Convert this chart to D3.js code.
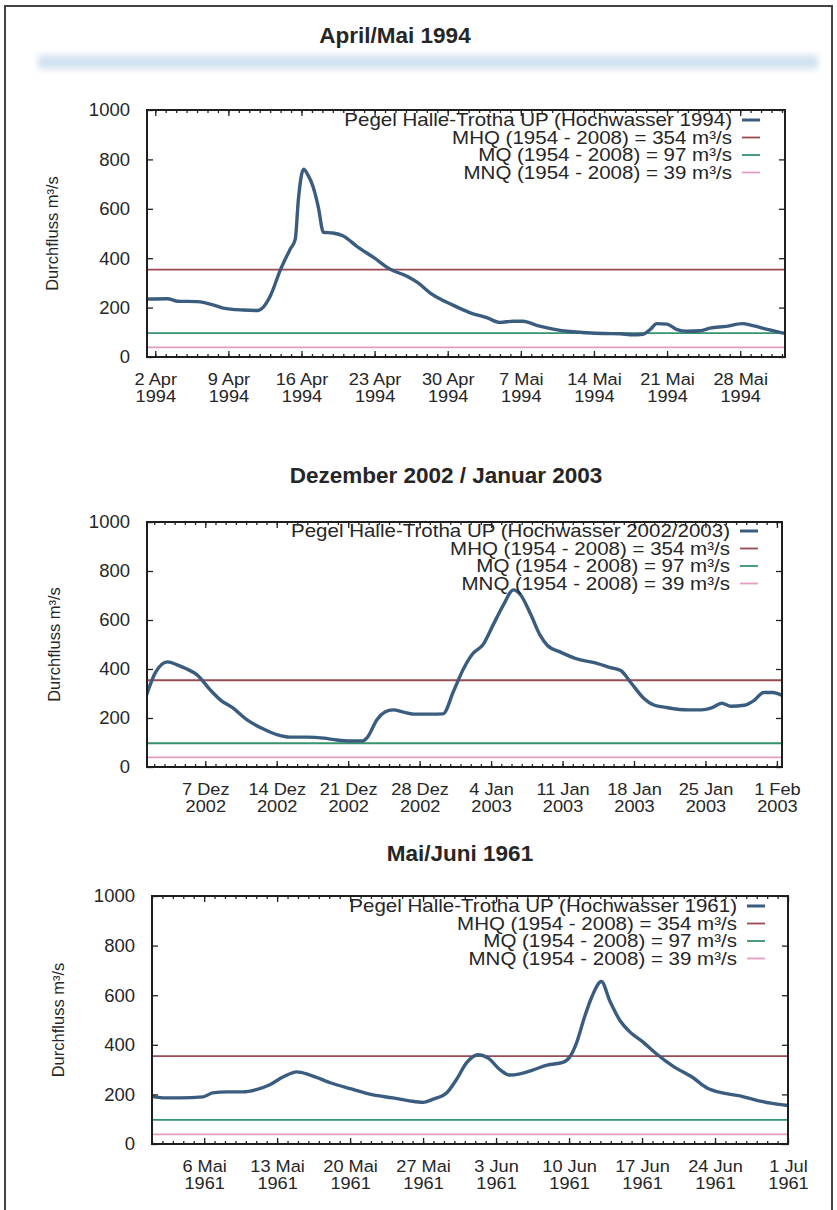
<!DOCTYPE html>
<html>
<head>
<meta charset="utf-8">
<script src="https://cdn.jsdelivr.net/npm/d3@7"></script>
<style>
  body { margin: 0; background: #fff; }
  text { font-family: "Liberation Sans", Arial, Helvetica, sans-serif; fill: #262626; }
</style>
</head>
<body>
<script>
const titles = ["April/Mai 1994", "Dezember 2002 / Januar 2003", "Mai/Juni 1961"];
const seriesNames = [
    "Pegel Halle-Trotha UP (Hochwasser 1994)",
    "Pegel Halle-Trotha UP (Hochwasser 2002/2003)",
    "Pegel Halle-Trotha UP (Hochwasser 1961)"
];
const refLabels = [
    "MHQ (1954 - 2008) = 354 m³/s",
    "MQ (1954 - 2008) = 97 m³/s",
    "MNQ (1954 - 2008) = 39 m³/s"
];
const refValues = [354, 97, 39];
const yTicks = [0, 200, 400, 600, 800, 1000];

// Hochwasser 1994
const start1 = "1994-04-02";
const domain1 = ["1994-04-01T05:00", "1994-06-01T07:00"];
const ticks1 = ["1994-04-02", "1994-04-09", "1994-04-16", "1994-04-23", "1994-04-30",
                "1994-05-07", "1994-05-14", "1994-05-21", "1994-05-28"];
const days1 = [-0.8, 1.15, 2.1, 4.0, 5.9, 6.5, 8.4, 9.8, 10.3, 11.0, 12.0, 12.9, 13.4, 13.7, 14.2,
               14.6, 15.1, 15.6, 16.1, 17.0, 18.0, 19.3, 20.9, 22.5, 24.1, 25.1, 26.3, 28.5, 30.1,
               31.8, 33.0, 34.3, 35.2, 36.6, 38.1, 39.7, 41.3, 42.9, 44.5, 45.7, 46.7, 47.4, 48.0,
               49.0, 49.9, 50.9, 52.2, 53.1, 54.7, 56.2, 57.2, 58.6, 59.8, 60.4];
const values1 = [235, 236, 226, 224, 206, 198, 190, 188, 200, 246, 355, 435, 476, 637, 760,
                 738, 690, 609, 505, 502, 490, 448, 403, 355, 327, 302, 260, 210, 180,
                 158, 140, 145, 145, 127, 113, 103, 98, 95, 94, 90, 92, 112, 135,
                 133, 112, 104, 106, 117, 124, 135, 127, 112, 100, 95];

// Hochwasser 2002/2003
const start2 = "2002-12-01";
const domain2 = ["2002-12-01T07:00", "2003-02-01T12:00"];
const ticks2 = ["2002-12-07", "2002-12-14", "2002-12-21", "2002-12-28", "2003-01-04",
                "2003-01-11", "2003-01-18", "2003-01-25", "2003-02-01"];
const days2 = [0.25, 1.1, 2.3, 3.3, 4.2, 5.2, 6.5, 7.5, 8.7, 10.1, 11.7, 13.1, 14.3, 16.0, 17.6,
               18.9, 20.2, 21.4, 21.9, 22.8, 23.6, 24.4, 25.4, 26.4, 28.0, 29.3, 30.3, 31.3, 32.2,
               33.2, 34.2, 35.2, 36.2, 36.9, 37.9, 38.8, 39.5, 40.8, 42.5, 44.0, 45.7, 46.7, 47.7,
               48.9, 49.9, 51.3, 53.3, 54.6, 55.6, 56.6, 57.5, 58.8, 59.8, 60.7, 61.6, 62.5];
const values2 = [294, 384, 429, 416, 400, 376, 314, 273, 241, 192, 155, 131, 122, 122, 118,
                 110, 106, 106, 122, 192, 224, 233, 224, 216, 216, 217, 307, 401, 462,
                 499, 580, 661, 723, 702, 621, 538, 497, 469, 440, 427, 406, 394, 344,
                 283, 254, 242, 233, 233, 241, 260, 248, 252, 273, 304, 304, 292];

// Hochwasser 1961
const start3 = "1961-05-01";
const domain3 = ["1961-05-01T00:00", "1961-07-01T00:00"];
const ticks3 = ["1961-05-06", "1961-05-13", "1961-05-20", "1961-05-27", "1961-06-03",
                "1961-06-10", "1961-06-17", "1961-06-24", "1961-07-01"];
const days3 = [0.0, 1.05, 2.7, 4.9, 5.8, 7.2, 8.7, 10.0, 11.3, 12.6, 13.9, 15.1, 17.1, 19.0,
               21.2, 23.1, 24.7, 26.0, 26.9, 28.3, 29.2, 30.2, 31.3, 32.2, 33.4, 34.3, 35.3,
               36.5, 37.9, 39.4, 40.1, 40.7, 41.5, 42.2, 43.1, 43.9, 44.9, 45.8, 47.1, 48.4,
               50.0, 51.9, 53.2, 54.7, 56.4, 58.0, 59.5, 61.0];
const values3 = [192, 186, 186, 190, 206, 210, 210, 219, 239, 271, 291, 279, 247, 223,
                 198, 186, 174, 168, 180, 208, 260, 329, 360, 348, 299, 278, 283,
                 298, 318, 329, 353, 406, 514, 595, 655, 578, 497, 453, 411, 363,
                 313, 267, 227, 206, 194, 176, 164, 155];

const seriesColor = "#3a5d7f";
const refColors = ["#9a4a52", "#34946c", "#e59cc4"];

const parseDay = d3.timeParse("%Y-%m-%d");
const parseTime = d3.timeParse("%Y-%m-%dT%H:%M");
const de = d3.timeFormatLocale({
    dateTime: "%A, der %e. %B %Y, %X", date: "%d.%m.%Y", time: "%H:%M:%S", periods: ["AM", "PM"],
    days: ["Sonntag", "Montag", "Dienstag", "Mittwoch", "Donnerstag", "Freitag", "Samstag"],
    shortDays: ["So", "Mo", "Di", "Mi", "Do", "Fr", "Sa"],
    months: ["Januar", "Februar", "März", "April", "Mai", "Juni", "Juli", "August",
             "September", "Oktober", "November", "Dezember"],
    shortMonths: ["Jan", "Feb", "Mrz", "Apr", "Mai", "Jun", "Jul", "Aug", "Sep", "Okt", "Nov", "Dez"]
});
const fmtDay = de.format("%-d %b");
const fmtYear = de.format("%Y");

const svg = d3.select("body").append("svg")
    .attr("width", 837)
    .attr("height", 1210);

const defs = svg.append("defs");
defs.append("filter").attr("id", "blur")
    .attr("x", "-5%").attr("y", "-100%").attr("width", "110%").attr("height", "300%")
    .append("feGaussianBlur").attr("stdDeviation", 3);

// Seitenrahmen und blaue Kopfleiste
svg.append("rect")
    .attr("x", 5).attr("y", 6).attr("width", 827).attr("height", 1220)
    .attr("fill", "none").attr("stroke", "#444").attr("stroke-width", 2);
svg.append("rect")
    .attr("x", 38).attr("y", 55).attr("width", 780).attr("height", 14)
    .attr("fill", "#d3e2f1").attr("filter", "url(#blur)");

const charts = [
    {title: titles[0], name: seriesNames[0], start: start1, domain: domain1, ticks: ticks1, days: days1, values: values1,
     left: 147, right: 785, top: 110, bottom: 357, titleX: 395, titleY: 43, ylabX: 52, legendRight: 732, legendY: 120},
    {title: titles[1], name: seriesNames[1], start: start2, domain: domain2, ticks: ticks2, days: days2, values: values2,
     left: 147, right: 782, top: 522, bottom: 767, titleX: 446, titleY: 483, ylabX: 54, legendRight: 730, legendY: 531},
    {title: titles[2], name: seriesNames[2], start: start3, domain: domain3, ticks: ticks3, days: days3, values: values3,
     left: 152, right: 788, top: 896, bottom: 1144, titleX: 460, titleY: 861, ylabX: 58, legendRight: 737, legendY: 906}
];

charts.forEach((c, ci) => drawChart(c, ci));

function drawChart(c, ci) {
    let x = d3.scaleTime()
        .domain(c.domain.map(parseTime))
        .range([c.left, c.right]);
    let y = d3.scaleLinear()
        .domain([0, 1000])
        .range([c.bottom, c.top]);

    let g = svg.append("g");

    g.append("text")
        .attr("x", c.titleX).attr("y", c.titleY)
        .attr("text-anchor", "middle")
        .attr("font-weight", "bold")
        .attr("font-size", 22.5)
        .text(c.title);

    defs.append("clipPath").attr("id", "clip" + ci)
        .append("rect")
        .attr("x", c.left).attr("y", c.top)
        .attr("width", c.right - c.left).attr("height", c.bottom - c.top);

    // Referenzlinien MHQ, MQ, MNQ
    refValues.forEach((v, i) => {
        g.append("line")
            .attr("x1", x.range()[0]).attr("x2", x.range()[1])
            .attr("y1", y(v)).attr("y2", y(v))
            .attr("stroke", refColors[i])
            .attr("stroke-width", 1.8);
    });

    // Ganglinie
    let t0 = parseDay(c.start);
    let pts = c.days.map((d, i) => ({date: d3.timeMinute.offset(t0, Math.round(d * 1440)), v: c.values[i]}));
    let line = d3.line()
        .x(d => x(d.date))
        .y(d => y(d.v))
        .curve(d3.curveMonotoneX);
    g.append("path")
        .datum(pts)
        .attr("clip-path", "url(#clip" + ci + ")")
        .attr("fill", "none")
        .attr("stroke", seriesColor)
        .attr("stroke-width", 3.4)
        .attr("stroke-linejoin", "round")
        .attr("d", line);

    // Achsen (Ticks nach innen, wie gnuplot)
    let dayTicks = d3.timeDay.range(d3.timeDay.ceil(x.domain()[0]), x.domain()[1]);
    let weekTicks = c.ticks.map(parseDay);

    g.append("g")
        .attr("transform", "translate(0," + c.bottom + ")")
        .call(d3.axisBottom(x).tickValues(dayTicks).tickSize(-3).tickFormat(""))
        .call(a => a.select(".domain").remove());
    g.append("g")
        .attr("transform", "translate(0," + c.top + ")")
        .call(d3.axisTop(x).tickValues(dayTicks).tickSize(-3).tickFormat(""))
        .call(a => a.select(".domain").remove());
    g.append("g")
        .attr("transform", "translate(0," + c.top + ")")
        .call(d3.axisTop(x).tickValues(weekTicks).tickSize(-6).tickFormat(""))
        .call(a => a.select(".domain").remove());

    let xAxis = g.append("g")
        .attr("transform", "translate(0," + c.bottom + ")")
        .call(d3.axisBottom(x).tickValues(weekTicks).tickSize(-6));
    xAxis.select(".domain").remove();
    xAxis.selectAll(".tick text")
        .attr("font-size", 17)
        .attr("fill", "#262626")
        .attr("transform", "scale(1.07,1)")
        .attr("y", 0)
        .attr("dy", null)
        .each(function(d) {
            let t = d3.select(this).text(null);
            t.append("tspan").attr("x", 0).attr("y", 28.5).text(fmtDay(d));
            t.append("tspan").attr("x", 0).attr("y", 45.5).text(fmtYear(d));
        });

    let yAxis = g.append("g")
        .attr("transform", "translate(" + c.left + ",0)")
        .call(d3.axisLeft(y).tickValues(yTicks).tickSize(-6).tickPadding(17).tickFormat(d3.format("d")));
    yAxis.select(".domain").remove();
    yAxis.selectAll(".tick text")
        .attr("font-size", 18.5)
        .attr("fill", "#262626");

    g.append("g")
        .attr("transform", "translate(" + c.right + ",0)")
        .call(d3.axisRight(y).tickValues(yTicks).tickSize(-6).tickFormat(""))
        .call(a => a.select(".domain").remove());

    g.selectAll(".tick line").attr("stroke", "#222").attr("stroke-width", 1.3);

    // Rahmen
    g.append("rect")
        .attr("x", c.left).attr("y", c.top)
        .attr("width", c.right - c.left).attr("height", c.bottom - c.top)
        .attr("fill", "none")
        .attr("stroke", "#1e1e1e")
        .attr("stroke-width", 2);

    g.append("text")
        .attr("transform", "translate(" + c.ylabX + "," + ((c.top + c.bottom) / 2) + ") rotate(-90)")
        .attr("text-anchor", "middle")
        .attr("dy", "0.35em")
        .attr("font-size", 16.5)
        .text("Durchfluss m³/s");

    // Legende (Schrift im Scan leicht in die Breite gezogen)
    let legendNames = [c.name].concat(refLabels);
    let legendColors = [seriesColor].concat(refColors);
    legendNames.forEach((n, i) => {
        let ly = c.legendY + i * 17.5;
        g.append("text")
            .attr("transform", "translate(" + c.legendRight + "," + ly + ") scale(1.14,1)")
            .attr("dy", "0.35em")
            .attr("text-anchor", "end")
            .attr("font-size", 18)
            .text(n);
        g.append("line")
            .attr("x1", c.legendRight + 10).attr("x2", c.legendRight + 28)
            .attr("y1", ly).attr("y2", ly)
            .attr("stroke", legendColors[i])
            .attr("stroke-width", i === 0 ? 3 : 1.8);
    });
}
</script>
</body>
</html>
